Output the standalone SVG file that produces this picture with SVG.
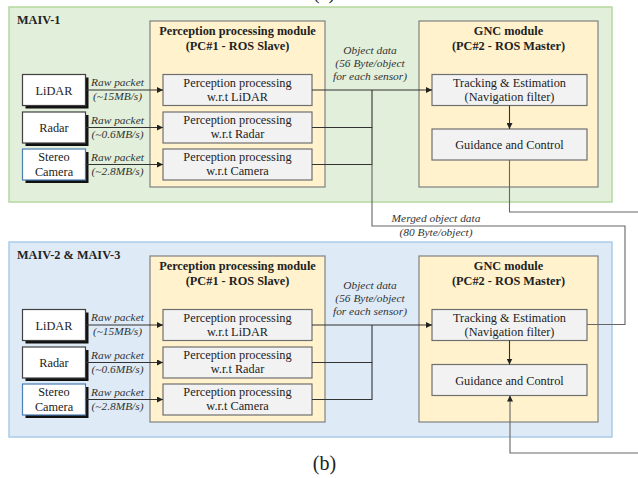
<svg xmlns="http://www.w3.org/2000/svg" width="638" height="478" viewBox="0 0 638 478">
  <defs>
    <marker id="arrow" viewBox="0 0 10 10" refX="10" refY="5" markerWidth="6" markerHeight="6" markerUnits="userSpaceOnUse" orient="auto">
      <path d="M0,0 L10,5 L0,10 z" fill="#222"/>
    </marker>
    <style>
      text { font-family: "Liberation Serif", "Times New Roman", serif; fill: #222; }
      .t { font-size: 12.3px; text-anchor: middle; }
      .b { font-size: 12.3px; font-weight: bold; text-anchor: middle; }
      .h { font-size: 12.3px; font-weight: bold; }
      .i { font-size: 11.4px; font-style: italic; text-anchor: middle; fill: #333; }
      .cap { font-size: 20px; text-anchor: middle; }
      .green { fill: #e2efda; stroke: #b5d8a0; stroke-width: 1.5; }
      .blue { fill: #deebf7; stroke: #a9cbea; stroke-width: 1.5; }
      .module { fill: #fff2cc; stroke: #808080; stroke-width: 1.2; }
      .proc { fill: #f2f2f2; stroke: #6f6f6f; stroke-width: 1.2; }
      .sensor { fill: #ffffff; stroke: #404040; stroke-width: 1.2; }
      .cam { fill: #ffffff; stroke: #4a7eb5; stroke-width: 1.2; }
      .shadow { fill: #111; }
      .wire { fill: none; stroke: #333; stroke-width: 1.1; }
      .wire2 { fill: none; stroke: #666; stroke-width: 1.1; }
    </style>
  </defs>

  <rect width="638" height="478" fill="#ffffff"/>

  <!-- caption of the upper figure, mostly above the visible area -->
  <text class="cap" x="324" y="-1.5">(a)</text>

  <!-- ===== MAIV-1 ===== -->
  <g id="panel-maiv1">
    <rect class="green" x="9" y="7" width="603" height="195"/>
    <text class="h" x="17" y="23.5">MAIV-1</text>
  </g>

  <g id="perception-module-1">
    <rect class="module" x="150" y="21" width="175" height="166"/>
    <text class="b" x="237.5" y="35">Perception processing module</text>
    <text class="b" x="237.5" y="50">(PC#1 - ROS Slave)</text>
  </g>

  <g id="gnc-module-1">
    <rect class="module" x="419" y="21" width="179" height="166"/>
    <text class="b" x="508.5" y="35">GNC module</text>
    <text class="b" x="508.5" y="50">(PC#2 - ROS Master)</text>
  </g>

  <g id="lidar-1">
    <rect class="shadow" x="25.5" y="77.5" width="63" height="31"/>
    <rect class="sensor" x="22.5" y="74.5" width="63" height="31"/>
    <text class="t" x="54" y="94.5">LiDAR</text>
  </g>
  <g id="radar-1">
    <rect class="shadow" x="25.5" y="115" width="63" height="31"/>
    <rect class="sensor" x="22.5" y="112" width="63" height="31"/>
    <text class="t" x="54" y="132">Radar</text>
  </g>
  <g id="camera-1">
    <rect class="shadow" x="25.5" y="152" width="63" height="31"/>
    <rect class="cam" x="22.5" y="149" width="63" height="31"/>
    <text class="t" x="54" y="161">Stereo</text>
    <text class="t" x="54" y="175.5">Camera</text>
  </g>

  <g id="proc-lidar-1">
    <rect class="proc" x="163" y="74.5" width="149" height="31"/>
    <text class="t" x="237.5" y="86.5">Perception processing</text>
    <text class="t" x="237.5" y="100.5">w.r.t LiDAR</text>
  </g>
  <g id="proc-radar-1">
    <rect class="proc" x="163" y="112" width="149" height="31"/>
    <text class="t" x="237.5" y="124">Perception processing</text>
    <text class="t" x="237.5" y="138">w.r.t Radar</text>
  </g>
  <g id="proc-camera-1">
    <rect class="proc" x="163" y="149" width="149" height="31"/>
    <text class="t" x="237.5" y="161">Perception processing</text>
    <text class="t" x="237.5" y="175">w.r.t Camera</text>
  </g>

  <g id="tracking-1">
    <rect class="proc" x="432" y="74.5" width="155" height="31"/>
    <text class="t" x="509.5" y="86.5">Tracking &amp; Estimation</text>
    <text class="t" x="509.5" y="100.5">(Navigation filter)</text>
  </g>
  <g id="guidance-1">
    <rect class="proc" x="432" y="129" width="155" height="31"/>
    <text class="t" x="509.5" y="149">Guidance and Control</text>
  </g>

  <!-- ===== MAIV-2 & MAIV-3 ===== -->
  <g id="panel-maiv23">
    <rect class="blue" x="9" y="242" width="603" height="195"/>
    <text class="h" x="17" y="258.5">MAIV-2 &amp; MAIV-3</text>
  </g>

  <g id="perception-module-2">
    <rect class="module" x="150" y="256" width="175" height="166"/>
    <text class="b" x="237.5" y="270">Perception processing module</text>
    <text class="b" x="237.5" y="285">(PC#1 - ROS Slave)</text>
  </g>

  <g id="gnc-module-2">
    <rect class="module" x="419" y="256" width="179" height="166"/>
    <text class="b" x="508.5" y="270">GNC module</text>
    <text class="b" x="508.5" y="285">(PC#2 - ROS Master)</text>
  </g>

  <g id="lidar-2">
    <rect class="shadow" x="25.5" y="312.5" width="63" height="31"/>
    <rect class="sensor" x="22.5" y="309.5" width="63" height="31"/>
    <text class="t" x="54" y="329.5">LiDAR</text>
  </g>
  <g id="radar-2">
    <rect class="shadow" x="25.5" y="350" width="63" height="31"/>
    <rect class="sensor" x="22.5" y="347" width="63" height="31"/>
    <text class="t" x="54" y="367">Radar</text>
  </g>
  <g id="camera-2">
    <rect class="shadow" x="25.5" y="387" width="63" height="31"/>
    <rect class="cam" x="22.5" y="384" width="63" height="31"/>
    <text class="t" x="54" y="396">Stereo</text>
    <text class="t" x="54" y="410.5">Camera</text>
  </g>

  <g id="proc-lidar-2">
    <rect class="proc" x="163" y="309.5" width="149" height="31"/>
    <text class="t" x="237.5" y="321.5">Perception processing</text>
    <text class="t" x="237.5" y="335.5">w.r.t LiDAR</text>
  </g>
  <g id="proc-radar-2">
    <rect class="proc" x="163" y="347" width="149" height="31"/>
    <text class="t" x="237.5" y="359">Perception processing</text>
    <text class="t" x="237.5" y="373">w.r.t Radar</text>
  </g>
  <g id="proc-camera-2">
    <rect class="proc" x="163" y="384" width="149" height="31"/>
    <text class="t" x="237.5" y="396">Perception processing</text>
    <text class="t" x="237.5" y="410">w.r.t Camera</text>
  </g>

  <g id="tracking-2">
    <rect class="proc" x="432" y="309.5" width="155" height="31"/>
    <text class="t" x="509.5" y="321.5">Tracking &amp; Estimation</text>
    <text class="t" x="509.5" y="335.5">(Navigation filter)</text>
  </g>
  <g id="guidance-2">
    <rect class="proc" x="432" y="364.5" width="155" height="31"/>
    <text class="t" x="509.5" y="384.5">Guidance and Control</text>
  </g>

  <!-- ===== connectors ===== -->
  <g id="connectors">
    <!-- MAIV-1: sensors to perception -->
    <path class="wire" d="M85.5,90 H163" marker-end="url(#arrow)"/>
    <path class="wire" d="M85.5,127.5 H163" marker-end="url(#arrow)"/>
    <path class="wire" d="M85.5,164.5 H163" marker-end="url(#arrow)"/>
    <!-- MAIV-1: perception outputs merged into tracking -->
    <path class="wire" d="M312,90 H432" marker-end="url(#arrow)"/>
    <path class="wire" d="M312,127.5 H372 V90"/>
    <path class="wire" d="M312,164.5 H372 V127.5"/>
    <path class="wire" d="M509.5,105.5 V129" marker-end="url(#arrow)"/>
    <!-- merged object data sent to the other vehicles -->
    <path class="wire2" d="M372,164.5 V226 H625 V324.5 H587"/>
    <!-- guidance output leaving the vehicle -->
    <path class="wire2" d="M509.5,160 V212 H638"/>

    <!-- MAIV-2 & MAIV-3: sensors to perception -->
    <path class="wire" d="M85.5,325 H163" marker-end="url(#arrow)"/>
    <path class="wire" d="M85.5,362.5 H163" marker-end="url(#arrow)"/>
    <path class="wire" d="M85.5,399.5 H163" marker-end="url(#arrow)"/>
    <!-- MAIV-2 & MAIV-3: perception outputs merged into tracking -->
    <path class="wire" d="M312,325 H432" marker-end="url(#arrow)"/>
    <path class="wire" d="M312,362.5 H372 V325"/>
    <path class="wire" d="M312,399.5 H372 V362.5"/>
    <path class="wire" d="M509.5,340.5 V364.5" marker-end="url(#arrow)"/>
    <!-- incoming link into guidance -->
    <path class="wire2" d="M638,453 H510 V395.5" marker-end="url(#arrow)"/>
  </g>

  <!-- ===== connector labels ===== -->
  <g id="labels">
    <text class="i" x="117.5" y="86">Raw packet</text>
    <text class="i" x="117.5" y="99.5">(~15MB/s)</text>
    <text class="i" x="117.5" y="123.5">Raw packet</text>
    <text class="i" x="117.5" y="137.5">(~0.6MB/s)</text>
    <text class="i" x="117.5" y="161">Raw packet</text>
    <text class="i" x="117.5" y="175">(~2.8MB/s)</text>

    <text class="i" x="370" y="54">Object data</text>
    <text class="i" x="370" y="67">(56 Byte/object</text>
    <text class="i" x="370" y="80">for each sensor)</text>

    <text class="i" x="436" y="222">Merged object data</text>
    <text class="i" x="436" y="235.5">(80 Byte/object)</text>

    <text class="i" x="117.5" y="321">Raw packet</text>
    <text class="i" x="117.5" y="334.5">(~15MB/s)</text>
    <text class="i" x="117.5" y="358.5">Raw packet</text>
    <text class="i" x="117.5" y="372.5">(~0.6MB/s)</text>
    <text class="i" x="117.5" y="396">Raw packet</text>
    <text class="i" x="117.5" y="410">(~2.8MB/s)</text>

    <text class="i" x="370" y="289">Object data</text>
    <text class="i" x="370" y="302">(56 Byte/object</text>
    <text class="i" x="370" y="315">for each sensor)</text>
  </g>

  <text class="cap" x="324.5" y="470">(b)</text>
</svg>
